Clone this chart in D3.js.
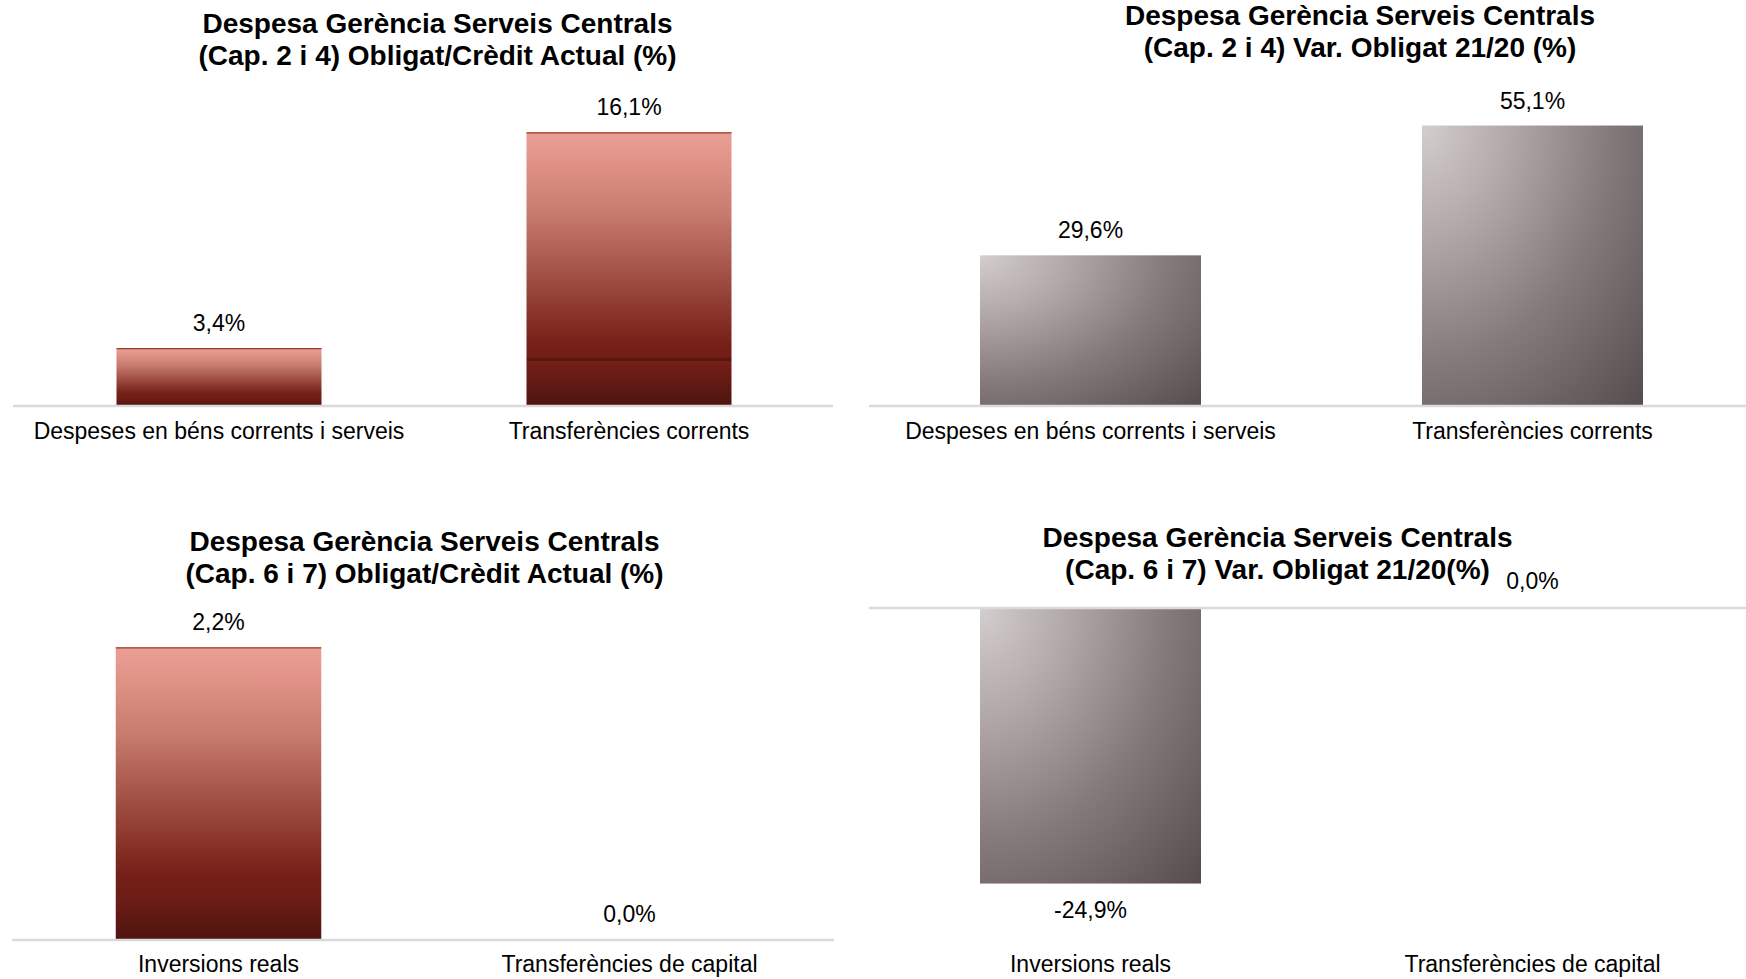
<!DOCTYPE html>
<html>
<head>
<meta charset="utf-8">
<script src="https://cdn.jsdelivr.net/npm/d3@7"></script>
<style>
  html, body { margin: 0; padding: 0; background: #ffffff; }
  svg { display: block; }
  text { font-family: "Liberation Sans", Arial, Helvetica, sans-serif; fill: #000; }
</style>
</head>
<body>
<svg id="chart" width="1746" height="979"></svg>
<script>
// ---------------- DATA ----------------
const categoriesCap24 = ["Despeses en béns corrents i serveis", "Transferències corrents"];
const categoriesCap67 = ["Inversions reals", "Transferències de capital"];

const obligatCreditCap24 = [3.4, 16.1];
const varObligatCap24 = [29.6, 55.1];
const obligatCreditCap67 = [2.2, 0.0];
const varObligatCap67 = [-24.9, 0.0];

const titleCreditCap24 = ["Despesa Gerència Serveis Centrals", "(Cap. 2 i 4) Obligat/Crèdit Actual (%)"];
const titleVarCap24 = ["Despesa Gerència Serveis Centrals", "(Cap. 2 i 4) Var. Obligat 21/20 (%)"];
const titleCreditCap67 = ["Despesa Gerència Serveis Centrals", "(Cap. 6 i 7) Obligat/Crèdit Actual (%)"];
const titleVarCap67 = ["Despesa Gerència Serveis Centrals", "(Cap. 6 i 7) Var. Obligat 21/20(%)"];

const domainCreditCap24 = [0, 18];
const domainVarCap24 = [0, 60];
const domainCreditCap67 = [0, 2.5];
const domainVarCap67 = [-30, 0];

// ---------------- SETUP ----------------
const svg = d3.select("#chart");
const locale = d3.formatLocale({decimal: ",", thousands: ".", grouping: [3], currency: ["", " €"], minus: "-"});
const fmt = v => locale.format(".1f")(v) + "%";

const defs = svg.append("defs");
function redGradient(id, withLine) {
  const g = defs.append("linearGradient").attr("id", id)
    .attr("x1", 0).attr("y1", 0).attr("x2", 0).attr("y2", 1);
  let stops = [
    [0, "#EB9F94"], [0.12, "#DF9186"], [0.3, "#C77A6E"], [0.5, "#A55449"],
    [0.65, "#8C372D"], [0.78, "#741F17"]
  ];
  if (withLine) {
    stops = stops.concat([[0.825, "#711E16"], [0.826, "#5A170F"], [0.834, "#5A170F"], [0.835, "#751F17"],
      [0.9, "#671C14"], [1, "#4E1410"]]);
  } else {
    stops = stops.concat([[0.87, "#6B1D15"], [1, "#4E1410"]]);
  }
  stops.forEach(s => g.append("stop").attr("offset", s[0]).attr("stop-color", s[1]));
}
redGradient("redLine", true);
redGradient("redPlain", false);

const gray = defs.append("radialGradient").attr("id", "gray")
  .attr("cx", 0).attr("cy", 0).attr("fx", 0).attr("fy", 0).attr("r", 1.414);
[[0, "#D4CECE"], [0.3, "#AFA5A5"], [0.6, "#857A7B"], [1, "#574C4D"]]
  .forEach(s => gray.append("stop").attr("offset", s[0]).attr("stop-color", s[1]));

// ---------------- PANELS ----------------
const panels = [
  {cats: categoriesCap24, vals: obligatCreditCap24, title: titleCreditCap24, domain: domainCreditCap24,
   xr: [14, 834], yr: [406, 100], axisX: [13, 833], fill: "url(#redLine)", red: true,
   titleX: 437.5, titleY: 32.5, catY: 438.5},
  {cats: categoriesCap24, vals: varObligatCap24, title: titleVarCap24, domain: domainVarCap24,
   xr: [869.5, 1753.5], yr: [406, 100.6], axisX: [869, 1746], fill: "url(#gray)", red: false,
   titleX: 1360, titleY: 25, catY: 438.5},
  {cats: categoriesCap67, vals: obligatCreditCap67, title: titleCreditCap67, domain: domainCreditCap67,
   xr: [13, 835], yr: [940, 607.5], axisX: [12, 834], fill: "url(#redPlain)", red: true,
   titleX: 424.5, titleY: 550.5, catY: 972},
  {cats: categoriesCap67, vals: varObligatCap67, title: titleVarCap67, domain: domainVarCap67,
   xr: [869.5, 1753.5], yr: [940, 608], axisX: [869, 1746], fill: "url(#gray)", red: false,
   titleX: 1277.5, titleY: 547, catY: 972}
];

panels.forEach(p => {
  const g = svg.append("g");
  const x = d3.scaleBand().domain(p.cats).range(p.xr).paddingInner(0.5).paddingOuter(0.25);
  const y = d3.scaleLinear().domain(p.domain).range(p.yr);
  const data = p.cats.map((c, i) => ({c, v: p.vals[i]}));

  // title
  const t = g.append("text").attr("x", p.titleX).attr("y", p.titleY)
    .attr("text-anchor", "middle").style("font-size", "28px").style("font-weight", "bold");
  p.title.forEach((line, i) => t.append("tspan").attr("x", p.titleX).attr("dy", i === 0 ? 0 : 32.3).text(line));

  // bars
  const bars = data.filter(d => d.v !== 0);
  g.selectAll("rect.bar").data(bars).join("rect").attr("class", "bar")
    .attr("x", d => x(d.c)).attr("width", x.bandwidth())
    .attr("y", d => Math.min(y(d.v), y(0)))
    .attr("height", d => Math.abs(y(d.v) - y(0)))
    .attr("fill", p.fill);
  if (p.red) {
    g.selectAll("line.topb").data(bars).join("line").attr("class", "topb")
      .attr("x1", d => x(d.c)).attr("x2", d => x(d.c) + x.bandwidth())
      .attr("y1", d => y(d.v) + 0.5).attr("y2", d => y(d.v) + 0.5)
      .attr("stroke", "#9C3A2F").attr("stroke-width", 1.3);
  }

  // zero axis line
  g.append("line").attr("x1", p.axisX[0]).attr("x2", p.axisX[1])
    .attr("y1", y(0)).attr("y2", y(0)).attr("stroke", "#D9D9D9").attr("stroke-width", 2.6);

  // value labels
  g.selectAll("text.val").data(data).join("text").attr("class", "val")
    .attr("x", d => x(d.c) + x.bandwidth() / 2)
    .attr("y", d => d.v < 0 ? y(d.v) + 34.5 : (d.v === 0 ? y(0) - (p.red ? 18 : 19) : y(d.v) - 17))
    .attr("text-anchor", "middle").style("font-size", "23px").text(d => fmt(d.v));

  // category labels
  g.selectAll("text.cat").data(p.cats).join("text").attr("class", "cat")
    .attr("x", d => x(d) + x.bandwidth() / 2).attr("y", p.catY)
    .attr("text-anchor", "middle").style("font-size", "23px").text(d => d);
});
</script>
</body>
</html>
